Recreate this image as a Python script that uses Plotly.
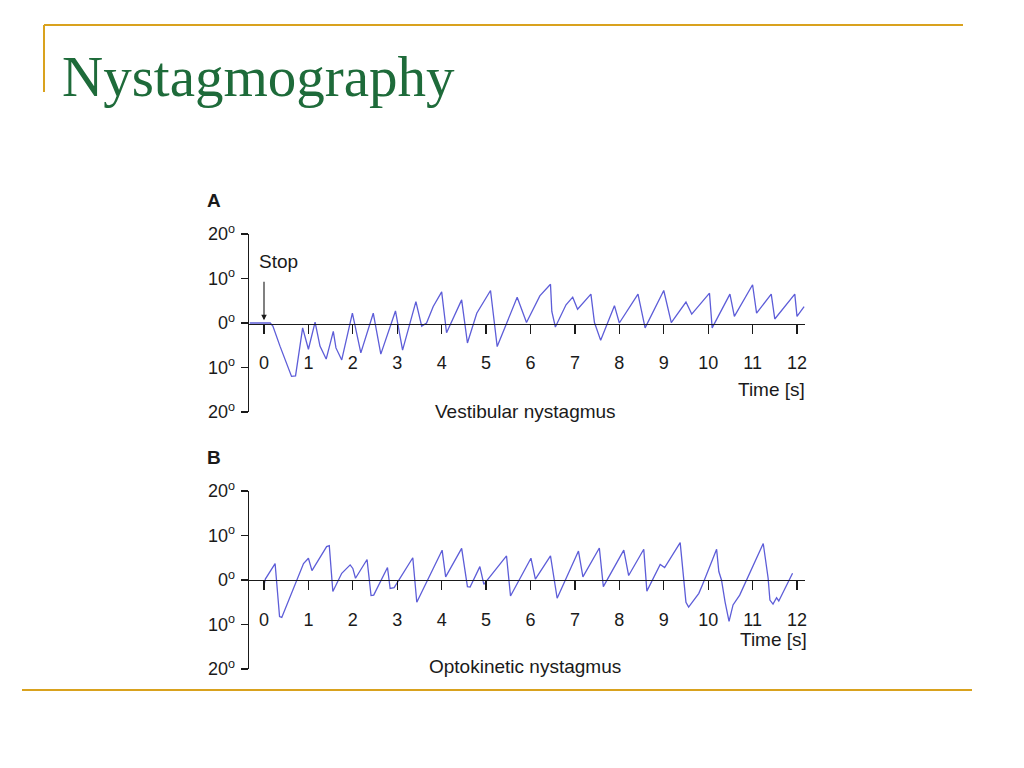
import plotly.graph_objects as go

W, H = 1024, 768

# ---- data ----
vest_t = [-0.32, 0.05, 0.14, 0.2, 0.36, 0.62, 0.71, 0.87, 1.0, 1.15, 1.26, 1.4, 1.56, 1.62, 1.75,
          1.99, 2.18, 2.46, 2.63, 2.96, 3.12, 3.42, 3.55, 3.66, 3.81, 4.0, 4.11, 4.45, 4.58, 4.79,
          5.1, 5.25, 5.7, 5.91, 6.21, 6.45, 6.48, 6.56, 6.8, 6.95, 7.06, 7.36, 7.44, 7.58, 7.89,
          8.0, 8.42, 8.58, 9.0, 9.17, 9.5, 9.63, 10.03, 10.09, 10.49, 10.59, 11.0, 11.09, 11.42,
          11.5, 11.95, 12.0, 12.16]
vest_v = [0, 0, 0, -0.7, -5.2, -12.0, -11.9, -1.1, -5.9, 0.2, -5.2, -8.1, -1.9, -5.6, -8.3,
          2.2, -6.7, 2.2, -7.0, 2.7, -6.1, 4.8, -0.7, 0.0, 3.7, 7.0, -2.2, 5.2, -4.5, 2.2,
          7.3, -5.3, 5.8, 0.1, 6.1, 8.7, 2.6, -0.9, 4.1, 5.8, 3.1, 6.5, 0.1, -3.9, 3.9,
          0.0, 6.5, -1.1, 7.3, 0.1, 4.7, 2.0, 6.7, -1.1, 6.5, 1.5, 8.6, 2.2, 6.5,
          0.9, 6.5, 1.5, 3.7]

opto_t = [0.0, 0.03, 0.25, 0.35, 0.4, 0.89, 1.0, 1.08, 1.41, 1.47, 1.55, 1.75, 1.94, 2.0, 2.06,
          2.32, 2.41, 2.47, 2.78, 2.84, 2.93, 3.35, 3.44, 4.01, 4.09, 4.45, 4.58, 4.64, 4.86,
          4.95, 5.46, 5.55, 6.01, 6.11, 6.45, 6.6, 7.08, 7.18, 7.55, 7.64, 8.1, 8.21, 8.55,
          8.62, 8.92, 9.02, 9.37, 9.5, 9.56, 9.79, 9.87, 10.19, 10.24, 10.3, 10.38, 10.47,
          10.56, 10.71, 11.24, 11.35, 11.39, 11.46, 11.54, 11.59, 11.9]
opto_v = [-1.2, 0.2, 3.7, -8.2, -8.4, 3.7, 4.9, 2.1, 7.5, 7.7, -2.6, 1.5, 3.4, 2.6, 0.4,
          4.6, -3.5, -3.4, 2.8, -1.9, -1.7, 5.0, -5.0, 6.7, 0.7, 7.1, -1.5, -1.6, 3.0,
          -1.0, 5.4, -3.6, 4.9, 0.2, 5.4, -4.1, 6.5, 0.7, 7.2, -1.5, 6.7, 1.0, 6.9,
          -2.5, 3.5, 2.8, 8.4, -5.0, -6.1, -3.0, -1.1, 6.9, 1.9, 0.0, -4.9, -9.3,
          -5.6, -3.4, 8.2, 0.4, -4.5, -5.4, -4.0, -4.7, 1.5]

x_ticks = list(range(0, 13))
y_ticks = [-20, -10, 0, 10, 20]
y_ticktext = ["20<sup>o</sup>", "10<sup>o</sup>", "0<sup>o</sup>", "10<sup>o</sup>", "20<sup>o</sup>"]

TITLE = "Nystagmography"
LINE_COLOR = "#5d5dd8"
INK = "#1a1a1a"
GOLD = "#D9A21E"
GREEN = "#1E6B3A"
FONT = "Liberation Sans"


def px(x):
    return x / W


def py(y):
    return 1 - y / H


fig = go.Figure()
fig.add_trace(go.Scatter(x=vest_t, y=vest_v, mode="lines", xaxis="x", yaxis="y",
                         line=dict(color=LINE_COLOR, width=1.3), hoverinfo="skip"))
fig.add_trace(go.Scatter(x=opto_t, y=opto_v, mode="lines", xaxis="x2", yaxis="y2",
                         line=dict(color=LINE_COLOR, width=1.3), hoverinfo="skip"))

x_left, x_right, x0px = 249, 805, 264
unit = (797 - 264) / 12.0
x_range = [-(x0px - x_left) / unit, (x_right - x0px) / unit]


def xaxis_cfg(zero_y):
    return dict(domain=[px(x_left), px(x_right)], range=x_range, anchor="free",
                position=py(zero_y), showline=True, linecolor=INK, linewidth=1.3,
                ticks="outside", ticklen=9, tickwidth=1.3, tickcolor=INK,
                tickvals=x_ticks, showgrid=False, zeroline=False, automargin=False,
                ticklabelstandoff=14, tickfont=dict(family=FONT, size=18, color=INK),
                fixedrange=True)


def yaxis_cfg(top, bottom, anchor):
    return dict(domain=[py(bottom), py(top)], range=[-20, 20], anchor=anchor,
                showline=True, linecolor=INK, linewidth=1.3, ticks="outside", ticklen=7,
                tickwidth=1.3, tickcolor=INK, tickvals=y_ticks, ticktext=y_ticktext,
                showgrid=False, zeroline=False, ticklabelstandoff=2, automargin=False,
                tickfont=dict(family=FONT, size=18, color=INK), fixedrange=True)


fig.update_layout(
    width=W, height=H, margin=dict(l=0, r=0, t=0, b=0, pad=0, autoexpand=False),
    paper_bgcolor="white", plot_bgcolor="rgba(0,0,0,0)", showlegend=False,
    xaxis=xaxis_cfg(323.5), yaxis=yaxis_cfg(234, 412, "x"),
    xaxis2=xaxis_cfg(580), yaxis2=yaxis_cfg(491, 669, "x2"),
)


def label(text, x, y, size=19, bold=False, xanchor="center"):
    t = f"<b>{text}</b>" if bold else text
    fig.add_annotation(text=t, x=px(x), y=py(y), xref="paper", yref="paper",
                       xanchor=xanchor, yanchor="middle", showarrow=False,
                       font=dict(family=FONT, size=size, color=INK))


label("A", 214, 200, size=19, bold=True)
label("B", 214, 457, size=19, bold=True)
label("Stop", 278, 262)
label("Time [s]", 771, 389)
label("Time [s]", 773, 639)
label("Vestibular nystagmus", 525, 411)
label("Optokinetic nystagmus", 525, 666)

# Stop arrow
fig.add_annotation(x=0, y=0.6, xref="x", yref="y", text="", showarrow=True,
                   ax=0, ay=-40, arrowhead=2, arrowsize=1, arrowwidth=1.1,
                   arrowcolor=INK)

# slide title
fig.add_annotation(text=TITLE, x=px(60), y=py(76), xref="paper", yref="paper",
                   xanchor="left", yanchor="middle", showarrow=False,
                   font=dict(family="Liberation Serif", size=57, color=GREEN))

# decorative slide lines
shapes = [
    dict(x0=px(44), x1=px(963), y0=py(25), y1=py(25)),
    dict(x0=px(44), x1=px(44), y0=py(25), y1=py(92)),
    dict(x0=px(22), x1=px(972), y0=py(690), y1=py(690)),
]
for s in shapes:
    fig.add_shape(type="line", xref="paper", yref="paper",
                  line=dict(color=GOLD, width=2), **s)

fig.write_html("out.html", config={"displayModeBar": False, "staticPlot": True},
               post_script="document.body.style.margin='0';")
